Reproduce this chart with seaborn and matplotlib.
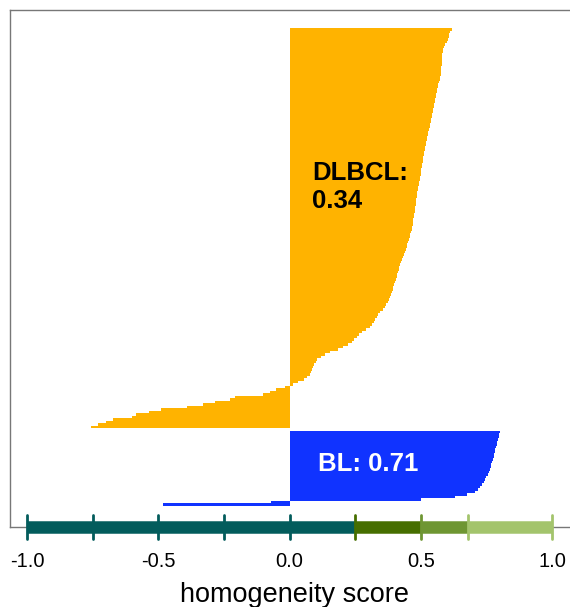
import pandas as pd
import matplotlib
matplotlib.use("Agg")
import matplotlib.pyplot as plt
import matplotlib.transforms as mtransforms
import seaborn as sns

# homogeneity score per sample, sorted within each group (top to bottom)
dlbcl_scores = [
    0.620, 0.612, 0.608, 0.606, 0.603, 0.598, 0.593, 0.590, 0.586, 0.583,
    0.582, 0.581, 0.581, 0.580, 0.579, 0.578, 0.578, 0.577, 0.576, 0.574,
    0.572, 0.569, 0.566, 0.564, 0.562, 0.560, 0.558, 0.557, 0.555, 0.553,
    0.551, 0.549, 0.547, 0.546, 0.544, 0.542, 0.540, 0.538, 0.536, 0.534,
    0.531, 0.529, 0.527, 0.525, 0.522, 0.520, 0.518, 0.517, 0.515, 0.513,
    0.512, 0.510, 0.508, 0.507, 0.505, 0.504, 0.502, 0.501, 0.499, 0.498,
    0.496, 0.494, 0.492, 0.490, 0.488, 0.487, 0.486, 0.484, 0.483, 0.482,
    0.480, 0.479, 0.477, 0.476, 0.475, 0.473, 0.472, 0.471, 0.469, 0.467,
    0.465, 0.462, 0.460, 0.457, 0.454, 0.452, 0.449, 0.446, 0.443, 0.440,
    0.436, 0.432, 0.428, 0.425, 0.422, 0.418, 0.416, 0.413, 0.410, 0.408,
    0.405, 0.401, 0.398, 0.395, 0.393, 0.390, 0.387, 0.383, 0.378, 0.373,
    0.368, 0.363, 0.355, 0.345, 0.336, 0.332, 0.327, 0.320, 0.313, 0.306,
    0.290, 0.276, 0.265, 0.256, 0.246, 0.236, 0.222, 0.205, 0.183, 0.154,
    0.135, 0.119, 0.106, 0.099, 0.094, 0.090, 0.085, 0.081, 0.076, 0.066,
    0.054, 0.033, 0.014,
    -0.019, -0.051, -0.076, -0.100, -0.209, -0.228, -0.285, -0.330, -0.390,
    -0.490, -0.535, -0.585, -0.600, -0.672, -0.700, -0.730, -0.758,
]
bl_scores = [
    0.803, 0.799, 0.797, 0.794, 0.792, 0.789, 0.787, 0.784, 0.782, 0.780,
    0.777, 0.775, 0.772, 0.769, 0.766, 0.762, 0.758, 0.755, 0.750, 0.746,
    0.742, 0.735, 0.727, 0.719, 0.706, 0.676, 0.630, 0.500, -0.070, -0.482,
]
group_names = ["DLBCL", "BL"]
group_labels = ["DLBCL:\n0.34", "BL: 0.71"]

# quality bands drawn along the x axis
band_edges = [-1.0, 0.25, 0.5, 0.68, 1.0]
band_colors = ["#035c5c", "#466e00", "#6e9632", "#a3c46c"]
band_ticks = [-1.0, -0.75, -0.5, -0.25, 0.0, 0.25, 0.5, 0.68, 1.0]
xtick_vals = [-1.0, -0.5, 0.0, 0.5, 1.0]
xtick_labels = ["-1.0", "-0.5", "0.0", "0.5", "1.0"]

ORANGE = "#ffb300"
BLUE = "#1033ff"

sns.set_style("white")
plt.rcParams["font.family"] = ["Liberation Sans", "DejaVu Sans"]
plt.rcParams["text.color"] = "black"
plt.rcParams["axes.labelcolor"] = "black"

# one empty row between the two groups
pos = list(range(len(dlbcl_scores))) + \
    list(range(len(dlbcl_scores) + 1, len(dlbcl_scores) + 1 + len(bl_scores)))
df = pd.DataFrame({
    "score": dlbcl_scores + bl_scores,
    "pos": pos,
    "group": [group_names[0]] * len(dlbcl_scores) + [group_names[1]] * len(bl_scores),
})

fig = plt.figure(figsize=(5.7, 6.07), dpi=100)
ax = fig.add_axes([10 / 570, 80 / 607, 570 / 570, 517 / 607])

sns.barplot(data=df, x="score", y="pos", hue="group", orient="h",
            native_scale=True, width=1, dodge=False, errorbar=None,
            saturation=1,
            palette={group_names[0]: ORANGE, group_names[1]: BLUE},
            legend=False, linewidth=0, ax=ax)
for p in ax.patches:
    p.set_antialiased(False)

ax.set_xlim(-1.0659, 1.1067)
ax.set_ylim(199.1, -7.7)
ax.set_yticks([])
ax.set_ylabel("")

for s in ax.spines.values():
    s.set_color("#777777")
    s.set_linewidth(1)

# group labels
ax.text(0.086, 52.6, group_labels[0], fontsize=18.5, fontweight="bold",
        color="black", ha="left", va="top", linespacing=1.2)
ax.text(0.109, 169.0, group_labels[1], fontsize=18.5, fontweight="bold",
        color="white", ha="left", va="top")

# colour band with tick marks on the bottom spine
trans = mtransforms.blended_transform_factory(ax.transData, ax.transAxes)
for i in range(len(band_colors)):
    ax.plot([band_edges[i], band_edges[i + 1]], [0, 0], color=band_colors[i],
            linewidth=9, solid_capstyle="butt", transform=trans, clip_on=False,
            zorder=5)
for t in band_ticks:
    idx = 0
    for i in range(len(band_colors)):
        if t >= band_edges[i]:
            idx = i
    ax.plot([t, t], [-0.024, 0.023], color=band_colors[idx], linewidth=2,
            transform=trans, clip_on=False, zorder=6)

ax.set_xticks(xtick_vals)
ax.set_xticklabels(xtick_labels)
ax.tick_params(axis="x", length=0, pad=18, labelsize=14.5, colors="black")
ax.set_xlabel("homogeneity score", fontsize=19.5, labelpad=8, color="black")

fig.savefig("out.png", dpi=100)
